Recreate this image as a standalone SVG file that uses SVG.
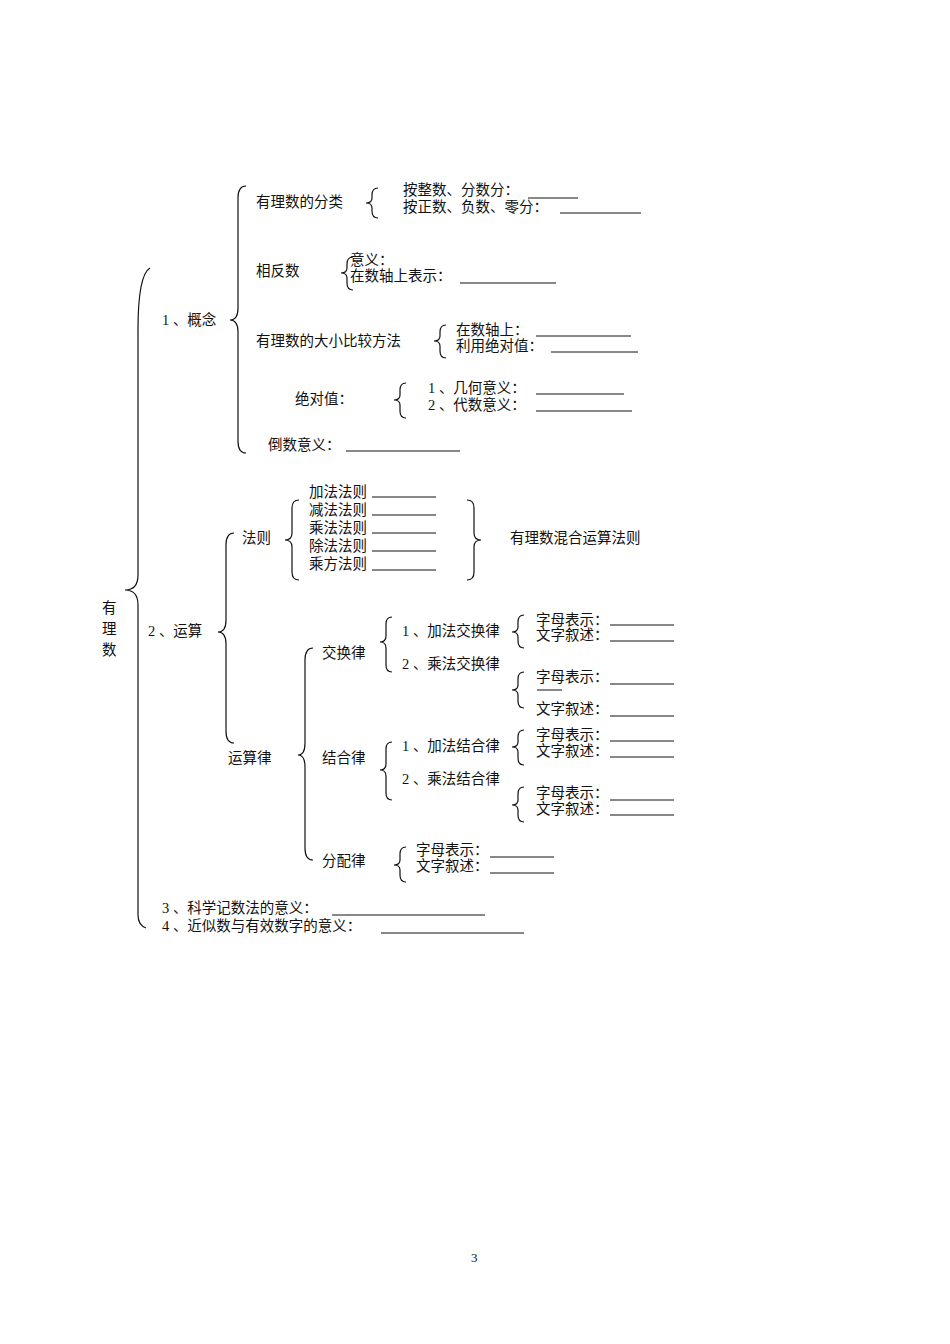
<svg xmlns="http://www.w3.org/2000/svg" width="950" height="1344" viewBox="0 0 950 1344">
<style>
text{font-family:"Liberation Serif","Noto Sans CJK SC",serif;font-size:14.5px;fill:#111}
.b{fill:none;stroke:#111;stroke-width:1.2}
.u{stroke:#111;stroke-width:1}
</style>
<rect width="950" height="1344" fill="#fff"/>
<g id="connectors">
<path class="b" d="M150,268 Q138,275 138,330 L138,575 Q138,590 125,590 Q138,590 138,605 L138,915 Q138,925 146,928"/>
<path class="b" d="M246,186 Q238,186 238,198 L238,308 Q238,320 230,320 Q238,320 238,332 L238,441 Q238,453 246,453"/>
<path class="b" d="M378,188 Q372,188 372,195 L372,198 Q372,203 366,203 Q372,203 372,208 L372,211 Q372,218 378,218"/>
<path class="b" d="M353,257 Q347,257 347,264 L347,268 Q347,273 341,273 Q347,273 347,278 L347,283 Q347,290 353,290"/>
<path class="b" d="M446,325 Q440,325 440,332 L440,336 Q440,341 434,341 Q440,341 440,346 L440,351 Q440,358 446,358"/>
<path class="b" d="M406,383 Q400,383 400,390 L400,395 Q400,400 394,400 Q400,400 400,405 L400,411 Q400,418 406,418"/>
<path class="b" d="M234,533 Q226,533 226,545 L226,620 Q226,632 218,632 Q226,632 226,644 L226,731 Q226,743 234,743"/>
<path class="b" d="M299,500 Q292,500 292,508 L292,533 Q292,540 285,540 Q292,540 292,547 L292,572 Q292,580 299,580"/>
<path class="b" d="M467,500 Q474,500 474,508 L474,533 Q474,540 481,540 Q474,540 474,547 L474,572 Q474,580 467,580"/>
<path class="b" d="M313,648 Q305,648 305,660 L305,743 Q305,755 298,755 Q305,755 305,767 L305,848 Q305,860 313,860"/>
<path class="b" d="M392,617 Q386,617 386,624 L386,636 Q386,642 380,642 Q386,642 386,648 L386,665 Q386,672 392,672"/>
<path class="b" d="M524,615 Q518,615 518,622 L518,627 Q518,632 512,632 Q518,632 518,637 L518,641 Q518,648 524,648"/>
<path class="b" d="M524,672 Q518,672 518,679 L518,685 Q518,690 512,690 Q518,690 518,695 L518,701 Q518,708 524,708"/>
<path class="b" d="M392,742 Q386,742 386,749 L386,764 Q386,770 380,770 Q386,770 386,776 L386,793 Q386,800 392,800"/>
<path class="b" d="M524,730 Q518,730 518,737 L518,742 Q518,747 512,747 Q518,747 518,752 L518,758 Q518,765 524,765"/>
<path class="b" d="M524,787 Q518,787 518,794 L518,800 Q518,805 512,805 Q518,805 518,810 L518,815 Q518,822 524,822"/>
<path class="b" d="M406,847 Q400,847 400,854 L400,860 Q400,865 394,865 Q400,865 400,870 L400,875 Q400,882 406,882"/>
<line class="u" x1="537" y1="690" x2="562" y2="690"/>
</g>
<g id="root"><text x="102" y="613">有</text><text x="102" y="634">理</text><text x="102" y="655">数</text></g>
<g id="n1"><text x="162" y="325">1 、概念</text></g>
<g id="n1a"><text x="256" y="207">有理数的分类</text>
<text x="403" y="195">按整数、分数分：</text><line class="u" x1="528" y1="198" x2="578" y2="198"/>
<text x="403" y="212">按正数、负数、零分：</text><line class="u" x1="560" y1="213" x2="641" y2="213"/></g>
<g id="n1b"><text x="256" y="276">相反数</text>
<text x="350" y="265">意义：</text>
<text x="350" y="281">在数轴上表示：</text><line class="u" x1="460" y1="283" x2="556" y2="283"/></g>
<g id="n1c"><text x="256" y="346">有理数的大小比较方法</text>
<text x="456" y="335">在数轴上：</text><line class="u" x1="536" y1="336" x2="631" y2="336"/>
<text x="456" y="351">利用绝对值：</text><line class="u" x1="551" y1="352" x2="638" y2="352"/></g>
<g id="n1d"><text x="295" y="404">绝对值：</text>
<text x="428" y="393">1 、几何意义：</text><line class="u" x1="536" y1="394" x2="624" y2="394"/>
<text x="428" y="410">2 、代数意义：</text><line class="u" x1="536" y1="411" x2="632" y2="411"/></g>
<g id="n1e"><text x="268" y="450">倒数意义：</text><line class="u" x1="346" y1="451" x2="460" y2="451"/></g>
<g id="n2"><text x="148" y="636">2 、运算</text></g>
<g id="n2a"><text x="242" y="543">法则</text>
<text x="309" y="497">加法法则</text><line class="u" x1="372" y1="497" x2="436" y2="497"/>
<text x="309" y="515">减法法则</text><line class="u" x1="372" y1="515" x2="436" y2="515"/>
<text x="309" y="533">乘法法则</text><line class="u" x1="372" y1="533" x2="436" y2="533"/>
<text x="309" y="551">除法法则</text><line class="u" x1="372" y1="551" x2="436" y2="551"/>
<text x="309" y="569">乘方法则</text><line class="u" x1="372" y1="570" x2="436" y2="570"/>
<text x="510" y="543">有理数混合运算法则</text></g>
<g id="n2b"><text x="228" y="763">运算律</text></g>
<g id="jh"><text x="322" y="658">交换律</text>
<text x="402" y="636">1 、加法交换律</text>
<text x="402" y="669">2 、乘法交换律</text>
<text x="536" y="625">字母表示：</text><line class="u" x1="610" y1="625" x2="674" y2="625"/>
<text x="536" y="640">文字叙述：</text><line class="u" x1="610" y1="641" x2="674" y2="641"/>
<text x="536" y="682">字母表示：</text><line class="u" x1="610" y1="684" x2="674" y2="684"/>
<text x="536" y="714">文字叙述：</text><line class="u" x1="610" y1="716" x2="674" y2="716"/></g>
<g id="jhe"><text x="322" y="763">结合律</text>
<text x="402" y="751">1 、加法结合律</text>
<text x="402" y="784">2 、乘法结合律</text>
<text x="536" y="740">字母表示：</text><line class="u" x1="610" y1="741" x2="674" y2="741"/>
<text x="536" y="756">文字叙述：</text><line class="u" x1="610" y1="757" x2="674" y2="757"/>
<text x="536" y="798">字母表示：</text><line class="u" x1="610" y1="800" x2="674" y2="800"/>
<text x="536" y="814">文字叙述：</text><line class="u" x1="610" y1="815" x2="674" y2="815"/></g>
<g id="fp"><text x="322" y="866">分配律</text>
<text x="416" y="855">字母表示：</text><line class="u" x1="490" y1="857" x2="554" y2="857"/>
<text x="416" y="871">文字叙述：</text><line class="u" x1="490" y1="873" x2="554" y2="873"/></g>
<g id="n3"><text x="162" y="913">3 、科学记数法的意义：</text><line class="u" x1="332" y1="915" x2="485" y2="915"/></g>
<g id="n4"><text x="162" y="931">4 、近似数与有效数字的意义：</text><line class="u" x1="381" y1="933" x2="524" y2="933"/></g>
<text x="471" y="1262" style="font-size:13px">3</text>
</svg>
